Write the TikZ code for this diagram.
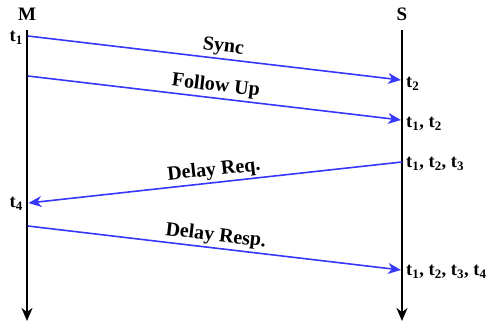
\documentclass[tikz,border=0pt]{standalone}
\usepackage{fontspec}
\setmainfont{Liberation Serif}
\usetikzlibrary{arrows.meta}
\definecolor{msgblue}{RGB}{55,55,250}
\tikzset{
  timeline/.style={line width=1.6pt, draw=black, -{Stealth[length=13pt,width=11pt,inset=4pt]}},
  message/.style={line width=1.6pt, draw=msgblue, -{Stealth[length=13pt,width=11pt,inset=4pt]}},
  msglabel/.style={font=\fontsize{20}{22}\selectfont\bfseries, sloped, above=0pt, inner sep=2pt},
  stamp/.style={font=\fontsize{18.5}{21}\selectfont\bfseries, inner sep=1pt},
  party/.style={font=\fontsize{19}{21}\selectfont\bfseries, inner sep=0pt}
}
\newcommand{\ts}[1]{t\textsubscript{#1}}
\begin{document}
\begin{tikzpicture}[x=1pt,y=-1pt]
\useasboundingbox (0,0) rectangle (492,323);
% endpoints of the two time axes
\coordinate (mtop) at (27,30);
\coordinate (mbot) at (27,321);
\coordinate (stop) at (402,30);
\coordinate (sbot) at (402,321);
\node[party] (M) at (27,14) {M};
\node[party] (S) at (402,14) {S};
\draw[timeline] (mtop) -- (mbot);
\draw[timeline] (stop) -- (sbot);
% message end points
\coordinate (sync0) at (27.8,36);
\coordinate (sync1) at (401,80);
\coordinate (fu0) at (27.8,76);
\coordinate (fu1) at (401,120);
\coordinate (dq0) at (402,162);
\coordinate (dq1) at (28.5,203);
\coordinate (dr0) at (27.8,226);
\coordinate (dr1) at (401,270);
\draw[message] (sync0) -- node[msglabel, pos=0.52] (lsync) {Sync} (sync1);
\draw[message] (fu0) -- node[msglabel, pos=0.50] (lfu) {Follow Up} (fu1);
\draw[message] (dq0) -- node[msglabel, pos=0.50] (ldq) {Delay Req.} (dq1);
\draw[message] (dr0) -- node[msglabel, pos=0.50] (ldr) {Delay Resp.} (dr1);
% time stamps
\node[stamp, anchor=east] (t1) at (24,38) {\ts{1}};
\node[stamp, anchor=east] (t4) at (24,204) {\ts{4}};
\node[stamp, anchor=west] (s1) at (405,84) {\ts{2}};
\node[stamp, anchor=west] (s2) at (405,124) {\ts{1}, \ts{2}};
\node[stamp, anchor=west] (s3) at (405,164) {\ts{1}, \ts{2}, \ts{3}};
\node[stamp, anchor=west] (s4) at (405,272) {\ts{1}, \ts{2}, \ts{3}, \ts{4}};
\end{tikzpicture}
\end{document}
